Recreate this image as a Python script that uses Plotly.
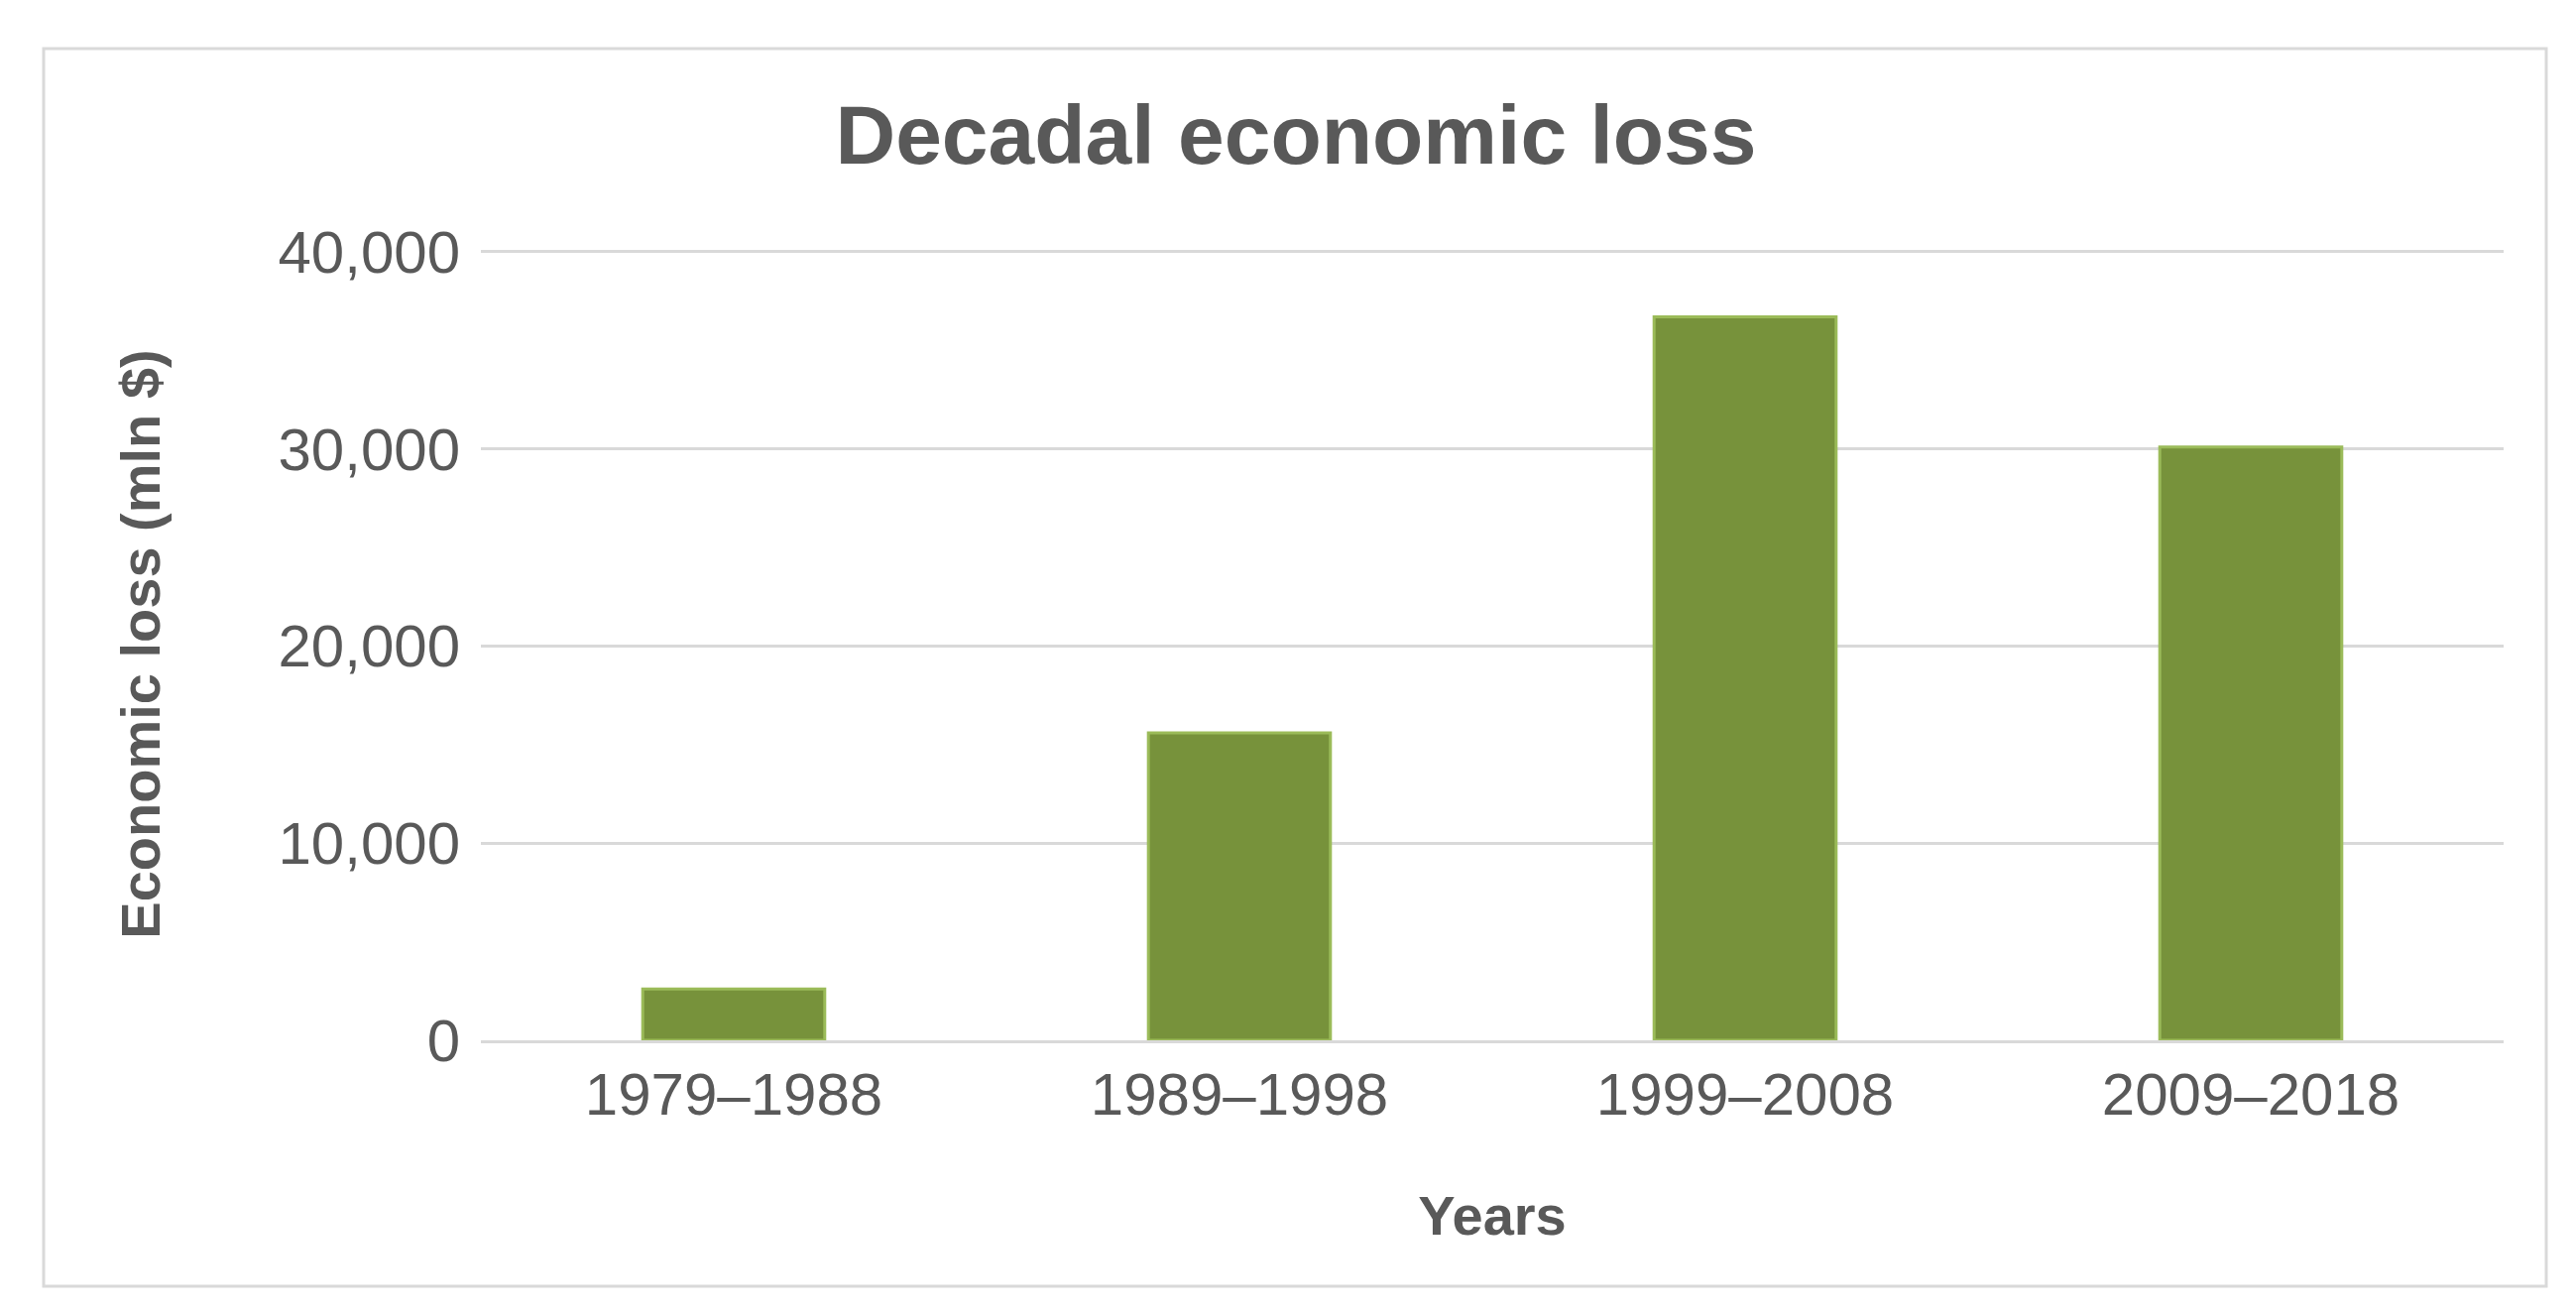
import plotly.graph_objects as go

categories = ["1979–1988", "1989–1998", "1999–2008", "2009–2018"]
losses = [2600, 15600, 36700, 30100]
tick_vals = [0, 10000, 20000, 30000, 40000]
tick_text = ["0", "10,000", "20,000", "30,000", "40,000"]

fig = go.Figure(go.Bar(
    x=categories, y=losses, width=0.36,
    marker=dict(color="#77923B", line=dict(color="#9BBB59", width=3)),
))
W, H = 2598, 1326
fig.update_layout(
    width=W, height=H, paper_bgcolor="white", plot_bgcolor="white",
    margin=dict(l=477, r=81, t=242, b=285),
    font=dict(family="Liberation Sans, Arial", color="#595959"),
    title=dict(text="<b>Decadal economic loss</b>", x=0.5, xanchor="center",
               y=1 - 128 / H, yanchor="middle", font=dict(size=84, color="#595959")),
    showlegend=False,
)
fig.update_xaxes(tickfont=dict(size=60), showline=True, linecolor="#D9D9D9", linewidth=3,
                 title=dict(text="<b>Years</b>", font=dict(size=56), standoff=70))
fig.update_yaxes(range=[0, 40200], tickvals=tick_vals, ticktext=tick_text,
                 tickfont=dict(size=60), gridcolor="#D9D9D9", gridwidth=3, zeroline=False,
                 ticklabelstandoff=20,
                 title=dict(text="<b>Economic loss (mln $)</b>", font=dict(size=56), standoff=100))
fig.add_shape(type="rect", xref="paper", yref="paper",
              x0=-(477 - 36) / (W - 477 - 81), x1=1 + (2560 - 2517) / (W - 477 - 81),
              y0=-(1289 - 1041) / (1041 - 242), y1=1 + (242 - 41) / (1041 - 242),
              line=dict(color="#D9D9D9", width=3))
fig.write_html("out.html")
